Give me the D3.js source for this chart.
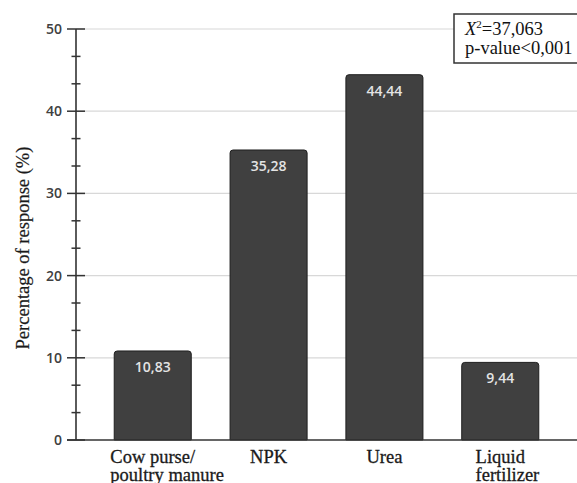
<!DOCTYPE html>
<html>
<head>
<meta charset="utf-8">
<script src="https://cdn.jsdelivr.net/npm/d3@7"></script>
<style>
  body { margin: 0; background: #fff; }
  svg { display: block; }
</style>
</head>
<body>
<div id="chart"></div>
<script>
// chart data
const categories = [["Cow purse/", "poultry manure"], ["NPK"], ["Urea"], ["Liquid", "fertilizer"]];
const values = [10.83, 35.28, 44.44, 9.44];
const valueLabels = ["10,83", "35,28", "44,44", "9,44"];
const yTicks = [0, 10, 20, 30, 40, 50];
const statLines = ["=37,063", "p-value<0,001"];

const width = 577, height = 483;
const margin = {top: 29, right: 0, bottom: 43, left: 76};
const serif = "'Liberation Serif', 'Times New Roman', serif";
const sans = "'Open Sans', 'Noto Sans', sans-serif";

const svg = d3.select("#chart").append("svg")
  .attr("width", width)
  .attr("height", height);

const x = d3.scaleBand()
  .domain(d3.range(values.length))
  .range([margin.left, width - margin.right])
  .paddingInner(0.335)
  .paddingOuter(0.33);

const y = d3.scaleLinear()
  .domain([0, 50])
  .range([height - margin.bottom, margin.top]);

// gridlines
svg.append("g")
  .selectAll("line")
  .data(yTicks.filter(d => d > 0))
  .enter().append("line")
    .attr("x1", margin.left)
    .attr("x2", width)
    .attr("y1", d => y(d))
    .attr("y2", d => y(d))
    .attr("stroke", "#d8d8d8")
    .attr("stroke-width", 1.2);

// bars with slightly rounded top corners
const r = 3;
svg.append("g")
  .selectAll("path")
  .data(values)
  .enter().append("path")
    .attr("d", (d, i) => {
      const x0 = x(i), x1 = x(i) + x.bandwidth(), top = y(d), bot = y(0);
      return `M${x0},${bot} V${top + r} Q${x0},${top} ${x0 + r},${top} H${x1 - r} Q${x1},${top} ${x1},${top + r} V${bot} Z`;
    })
    .attr("fill", "#404040")
    .attr("stroke", "#1e1e1e")
    .attr("stroke-width", 1);

// value labels inside bars
svg.append("g")
  .selectAll("text")
  .data(values)
  .enter().append("text")
    .attr("x", (d, i) => x(i) + x.bandwidth() / 2)
    .attr("y", d => y(d) + 21)
    .attr("text-anchor", "middle")
    .attr("fill", "#e4e4e4")
    .style("font-family", sans)
    .style("font-size", "14px")
    .style("font-weight", 600)
    .text((d, i) => valueLabels[i]);

// y axis
const yAxis = d3.axisLeft(y)
  .tickValues(yTicks)
  .tickSize(0)
  .tickPadding(14);

const gy = svg.append("g")
  .attr("transform", `translate(${margin.left},0)`)
  .call(yAxis);
gy.select(".domain").remove();
gy.selectAll("text")
  .attr("fill", "#404040")
  .style("font-family", sans)
  .style("font-size", "14px")
  .style("font-weight", 600);

// major and minor tick marks
svg.append("g")
  .selectAll("line")
  .data(yTicks)
  .enter().append("line")
    .attr("x1", margin.left - 9)
    .attr("x2", margin.left + 9)
    .attr("y1", d => y(d))
    .attr("y2", d => y(d))
    .attr("stroke", "#333")
    .attr("stroke-width", 1.5);

svg.append("g")
  .selectAll("line")
  .data(d3.range(0, 50, 10 / 3).filter((d, i) => i % 3 !== 0))
  .enter().append("line")
    .attr("x1", margin.left - 4.5)
    .attr("x2", margin.left + 4.5)
    .attr("y1", d => y(d))
    .attr("y2", d => y(d))
    .attr("stroke", "#333")
    .attr("stroke-width", 1.5);

svg.append("line")
  .attr("x1", margin.left)
  .attr("x2", margin.left)
  .attr("y1", y(50))
  .attr("y2", y(0))
  .attr("stroke", "#333")
  .attr("stroke-width", 1.6);

// x axis baseline
svg.append("line")
  .attr("x1", 67)
  .attr("x2", width)
  .attr("y1", y(0))
  .attr("y2", y(0))
  .attr("stroke", "#333")
  .attr("stroke-width", 1.6);

// x labels: first line centred on the bar, following lines start at same x
const xl = svg.append("g")
  .selectAll("text")
  .data(categories)
  .enter().append("text")
    .attr("fill", "#1a1a1a")
    .attr("stroke", "#1a1a1a")
    .attr("stroke-width", 0.3)
    .style("font-family", serif)
    .style("font-size", "18.5px");

xl.each(function(lines, i) {
  const t = d3.select(this);
  const first = t.append("tspan").text(lines[0]);
  const w = first.node().getComputedTextLength();
  const x0 = x(i) + x.bandwidth() / 2 - w / 2;
  first.attr("x", x0).attr("y", 463);
  lines.slice(1).forEach((s, k) => {
    t.append("tspan").attr("x", x0).attr("y", 463 + 18 * (k + 1)).text(s);
  });
});

// y axis title
svg.append("text")
  .attr("transform", `translate(29,248) rotate(-90)`)
  .attr("text-anchor", "middle")
  .attr("fill", "#1a1a1a")
  .attr("stroke", "#1a1a1a")
  .attr("stroke-width", 0.2)
  .style("font-family", serif)
  .style("font-size", "18.5px")
  .text("Percentage of response (%)");

// statistics box
const box = svg.append("g");
box.append("rect")
  .attr("x", 454)
  .attr("y", 14)
  .attr("width", 140)
  .attr("height", 49)
  .attr("fill", "#fff")
  .attr("stroke", "#333")
  .attr("stroke-width", 1.5);

const st = box.append("text")
  .attr("x", 465)
  .attr("y", 35)
  .attr("fill", "#111")
  .style("font-family", serif)
  .style("font-size", "18.5px");
st.append("tspan").style("font-style", "italic").text("X");
st.append("tspan").attr("dy", -7).style("font-size", "11px").text("2");
st.append("tspan").attr("dy", 7).text(statLines[0]);

box.append("text")
  .attr("x", 465)
  .attr("y", 54)
  .attr("fill", "#111")
  .style("font-family", serif)
  .style("font-size", "18.5px")
  .text(statLines[1]);
</script>
</body>
</html>
